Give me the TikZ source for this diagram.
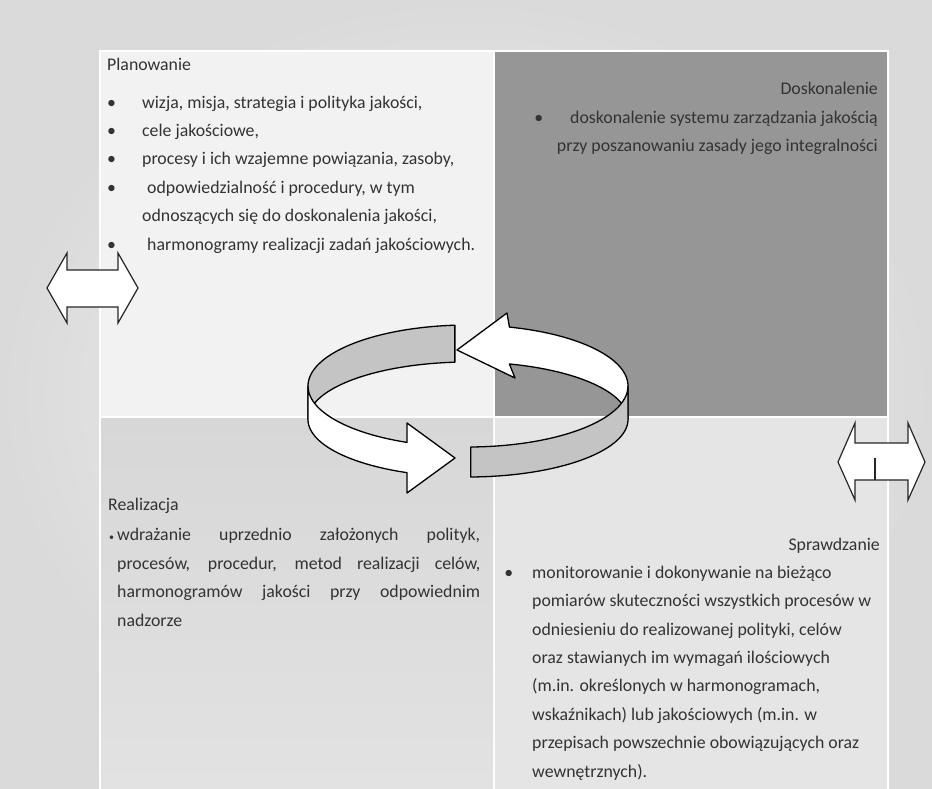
\documentclass[tikz,border=0pt]{standalone}
\usepackage{fontspec}
\setmainfont{Carlito}
\definecolor{txt}{HTML}{333333}
\definecolor{qTL}{HTML}{F2F2F2}
\definecolor{qTR}{HTML}{969696}
\definecolor{qBLa}{HTML}{D7D7D7}
\definecolor{qBLb}{HTML}{E2E2E2}
\definecolor{qBR}{HTML}{E5E5E5}
\definecolor{rib}{HTML}{C4C4C4}
\definecolor{bgin}{HTML}{F4F4F4}
\definecolor{bgout}{HTML}{DADADA}
\newcommand{\bA}{\makebox[35pt][l]{\textbullet}}
\begin{document}
\begin{tikzpicture}[x=1pt,y=-1pt,
  tx/.style={font=\fontsize{17.8}{28.4}\selectfont, text=txt, inner sep=0pt},
  ribbonw/.style={draw=black, line width=1.3pt, fill=white, line join=round},
  ribbong/.style={draw=black, line width=1.3pt, fill=rib, line join=round},
  dblarrow/.style={draw=black!85, line width=1.2pt, fill=white, line join=miter}]
\useasboundingbox (0,0) rectangle (932,789);
% background
\shade[inner color=bgin, outer color=bgout] (0,0) rectangle (932,789);
% white frame and quadrants
\fill[white] (99,50) rectangle (889,789);
\fill[qTL] (101,52) rectangle (493,416);
\fill[qTR] (495,52) rectangle (887,416);
\shade[top color=qBLa, bottom color=qBLb] (101,418) rectangle (493,789);
\fill[qBR] (495,418) rectangle (887,789);

% texts (base anchor of a multi-line node = baseline of its last line)
\node[tx, anchor=base west] (plant) at (107,71) {Planowanie};
\node[tx, anchor=base west, align=left] (plan) at (107,250) {%
\bA wizja, misja, strategia i polityka jakości,\\
\bA cele jakościowe,\\
\bA procesy i ich wzajemne powiązania, zasoby,\\
\bA\hspace*{5pt}odpowiedzialność i procedury, w tym\\
\hspace*{35pt}odnoszących się do doskonalenia jakości,\\
\bA\hspace*{5pt}harmonogramy realizacji zadań jakościowych.};

\node[tx, anchor=base east] (doskt) at (878,95) {Doskonalenie};
\node[tx, anchor=base east, align=right] (dosk) at (878,152)
  {\llap{\textbullet\hspace{27pt}}doskonalenie systemu zarządzania jakością\\
   przy poszanowaniu zasady jego integralności};

\node[tx, anchor=base west] (realt) at (108,510) {Realizacja};
\node[tx, anchor=base west, align=left] (real) at (117,626)
  {\llap{\fontsize{10}{10}\selectfont\textbullet\hspace{3pt}}\makebox[363pt][s]{wdrażanie uprzednio założonych polityk,}\\
   \makebox[363pt][s]{procesów, procedur, metod realizacji celów,}\\
   \makebox[363pt][s]{harmonogramów jakości przy odpowiednim}\\
   nadzorze};

\node[tx, anchor=base east] (sprt) at (880,550) {Sprawdzanie};
\node[tx, anchor=base west, align=left] (spr) at (532,777)
  {\llap{\textbullet\hspace{19pt}}monitorowanie i dokonywanie na bieżąco\\
   pomiarów skuteczności wszystkich procesów w\\
   odniesieniu do realizowanej polityki, celów\\
   oraz stawianych im wymagań ilościowych\\
   (m.in. określonych w harmonogramach,\\
   wskaźnikach) lub jakościowych (m.in. w\\
   przepisach powszechnie obowiązujących oraz\\
   wewnętrznych).};

% circular arrows (ellipse band)
% back-left gray tail
\filldraw[ribbong] plot[domain=180:265.3, samples=40] ({468+160*cos(\x)},{386+61*sin(\x)})
  -- plot[domain=265.3:180, samples=40] ({468+160*cos(\x)},{419.5+57.5*sin(\x)}) -- cycle;
% back-right white arrow with head pointing left
\filldraw[ribbonw] (457,350) -- (507,313)
  -- plot[domain=285:360, samples=40] ({468+160*cos(\x)},{386+61*sin(\x)})
  -- plot[domain=360:285, samples=40] ({468+160*cos(\x)},{419.5+57.5*sin(\x)})
  -- (515,378) -- cycle;
% front-right gray tail
\filldraw[ribbong] plot[domain=0:89, samples=40] ({468+160*cos(\x)},{386+61*sin(\x)})
  -- plot[domain=89:0, samples=40] ({468+160*cos(\x)},{419.5+57.5*sin(\x)}) -- cycle;
% front-left white arrow with head pointing right
\filldraw[ribbonw] plot[domain=180:112.4, samples=40] ({468+160*cos(\x)},{386+61*sin(\x)})
  -- (407,423) -- (455,458) -- (407,493)
  -- plot[domain=112.4:180, samples=40] ({468+160*cos(\x)},{419.5+57.5*sin(\x)}) -- cycle;

% left double arrow
\filldraw[dblarrow] (47,288) -- (67,253) -- (67,270) -- (118,270) -- (118,253) -- (138,288)
  -- (118,323) -- (118,307) -- (67,307) -- (67,323) -- cycle;
% right double arrow
\filldraw[dblarrow] (838,462) -- (855,423) -- (855,443) -- (908,443) -- (908,423) -- (925,462)
  -- (908,500) -- (908,480) -- (855,480) -- (855,500) -- cycle;
\coordinate (tickT) at (875,458);
\coordinate (tickB) at (875,480);
\draw[draw=black!85, line width=1.2pt] (tickT) -- (tickB);
\end{tikzpicture}
\end{document}
